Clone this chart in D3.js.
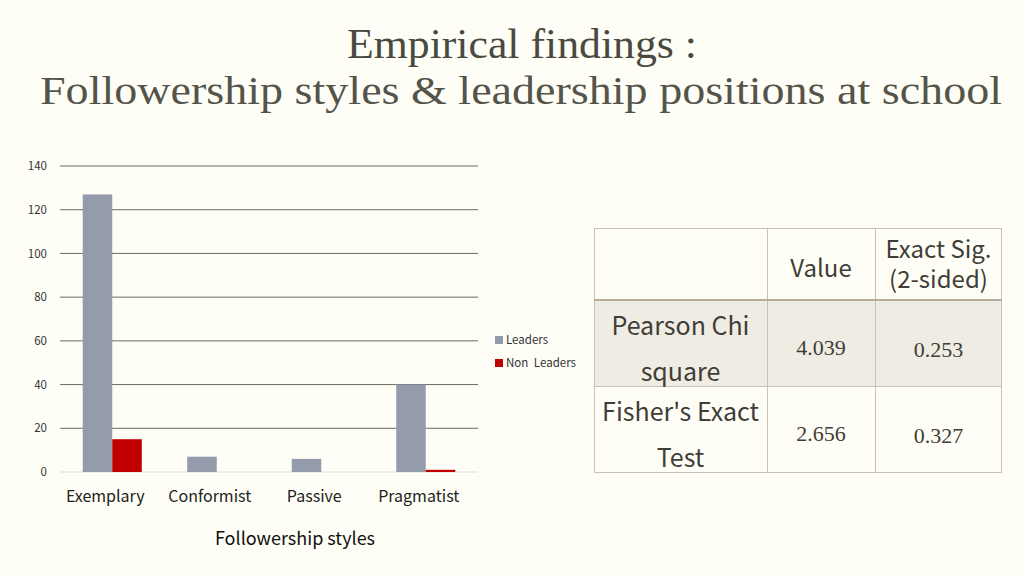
<!DOCTYPE html>
<html>
<head>
<meta charset="utf-8">
<script src="https://cdn.jsdelivr.net/npm/d3@7"></script>
<style>
  html, body { margin: 0; padding: 0; background: #fefef6; }
  svg { display: block; }
</style>
</head>
<body>
<div id="chart"></div>
<script>
const styles = ['Exemplary', 'Conformist', 'Passive', 'Pragmatist']
const seriesNames = ['Leaders', 'Non Leaders']
const leaders = [127, 7, 6, 40]
const nonLeaders = [15, 0, 0, 1]
const yTicks = [0, 20, 40, 60, 80, 100, 120, 140]

const tableHeader = ['', 'Value', 'Exact Sig.|(2-sided)']
const testNames = ['Pearson Chi|square', "Fisher's Exact|Test"]
const testValues = ['4.039', '2.656']
const testSig = ['0.253', '0.327']

const W = 1024
const H = 576
const COLORS = ['#949bab', '#c00000']
const SANS = '"Noto Sans CJK KR", "Noto Sans", sans-serif'
const SERIF = '"Liberation Serif", "DejaVu Serif", serif'

const svg = d3.select('#chart')
  .append('svg')
  .attr('width', W)
  .attr('height', H)

svg.append('rect').attr('width', W).attr('height', H).attr('fill', '#fefef6')

// titles
svg.append('text')
  .attr('x', 522).attr('y', 58)
  .attr('text-anchor', 'middle')
  .attr('font-family', SERIF)
  .attr('font-size', 42)
  .attr('fill', '#4a4940')
  .attr('textLength', 350)
  .attr('lengthAdjust', 'spacingAndGlyphs')
  .text('Empirical findings :')

svg.append('text')
  .attr('x', 521).attr('y', 104)
  .attr('text-anchor', 'middle')
  .attr('font-family', SERIF)
  .attr('font-size', 40)
  .attr('fill', '#55544b')
  .attr('textLength', 962)
  .attr('lengthAdjust', 'spacingAndGlyphs')
  .text('Followership styles & leadership positions at school')

// bar chart
const plot = { left: 60, right: 478, top: 166, bottom: 472 }

const x = d3.scaleBand()
  .domain(styles)
  .range([plot.left, plot.right])
  .paddingInner(0.435)
  .paddingOuter(0.2175)

const xs = d3.scaleBand()
  .domain(seriesNames)
  .range([0, x.bandwidth()])

const y = d3.scaleLinear()
  .domain([0, 140])
  .range([plot.bottom, plot.top])

const g = svg.append('g').attr('class', 'chart bar-chart')

g.selectAll('line.grid')
  .data(yTicks)
  .enter()
  .append('line')
  .attr('class', 'grid')
  .attr('x1', plot.left)
  .attr('x2', plot.right)
  .attr('y1', d => y(d))
  .attr('y2', d => y(d))
  .attr('stroke', d => d === 0 ? '#dcdcd4' : '#6b6b66')
  .attr('stroke-width', 1)

const yAxis = g.append('g')
  .attr('transform', `translate(${plot.left - 13},0)`)
  .call(d3.axisLeft(y).tickValues(yTicks).tickSize(0).tickPadding(0))
yAxis.select('.domain').remove()
yAxis.selectAll('text')
  .attr('font-family', SANS)
  .attr('font-size', 11.5)
  .attr('fill', '#333')

const rows = styles.map((s, i) => ({ style: s, values: [leaders[i], nonLeaders[i]] }))

const groups = g.selectAll('g.group')
  .data(rows)
  .enter()
  .append('g')
  .attr('class', 'group')
  .attr('transform', d => `translate(${x(d.style)},0)`)

groups.selectAll('rect')
  .data(d => d.values.map((v, k) => ({ name: seriesNames[k], value: v, k })))
  .enter()
  .append('rect')
  .attr('x', d => xs(d.name))
  .attr('width', xs.bandwidth())
  .attr('y', d => y(d.value))
  .attr('height', d => y(0) - y(d.value))
  .attr('fill', d => COLORS[d.k])

const xAxis = g.append('g')
  .attr('transform', `translate(0,${plot.bottom + 19})`)
  .call(d3.axisBottom(x).tickSize(0).tickPadding(0))
xAxis.select('.domain').remove()
xAxis.selectAll('text')
  .attr('font-family', SANS)
  .attr('font-size', 16)
  .attr('fill', '#222')
  .attr('dx', -7)

g.append('text')
  .attr('x', 295).attr('y', 545)
  .attr('text-anchor', 'middle')
  .attr('font-family', SANS)
  .attr('font-size', 18)
  .attr('fill', '#111')
  .text('Followership styles')

// legend
const legend = g.selectAll('g.legend')
  .data(seriesNames)
  .enter()
  .append('g')
  .attr('class', 'legend')
  .attr('transform', (d, i) => `translate(495,${336 + i * 23})`)

legend.append('rect')
  .attr('width', 8).attr('height', 8)
  .attr('fill', (d, i) => COLORS[i])

legend.append('text')
  .attr('x', 11).attr('y', 8)
  .attr('font-family', SANS)
  .attr('font-size', 11.5)
  .attr('fill', '#333')
  .attr('word-spacing', 3)
  .text(d => d)

// results table
const colX = [594, 767, 875, 1002]
const rowY = [228, 300, 386, 473]
const tbl = svg.append('g').attr('class', 'table')

tbl.append('rect')
  .attr('x', colX[0]).attr('y', rowY[1])
  .attr('width', colX[3] - colX[0]).attr('height', rowY[2] - rowY[1])
  .attr('fill', '#efece4')

tbl.append('rect')
  .attr('x', colX[0] + 0.5).attr('y', rowY[0] + 0.5)
  .attr('width', colX[3] - colX[0] - 1).attr('height', rowY[3] - rowY[0] - 1)
  .attr('fill', 'none')
  .attr('stroke', '#c7c1b8')

tbl.selectAll('line.col')
  .data(colX.slice(1, 3))
  .enter()
  .append('line')
  .attr('x1', d => d + 0.5).attr('x2', d => d + 0.5)
  .attr('y1', rowY[0]).attr('y2', rowY[3])
  .attr('stroke', '#c7c1b8')

tbl.append('line')
  .attr('x1', colX[0]).attr('x2', colX[3])
  .attr('y1', rowY[1]).attr('y2', rowY[1])
  .attr('stroke', '#b8ab98').attr('stroke-width', 2)

tbl.append('line')
  .attr('x1', colX[0]).attr('x2', colX[3])
  .attr('y1', rowY[2] + 0.5).attr('y2', rowY[2] + 0.5)
  .attr('stroke', '#c7c1b8')

function cellText (label, cx, cy, size, family, gap) {
  const parts = label.split('|')
  const t = tbl.append('text')
    .attr('text-anchor', 'middle')
    .attr('font-family', family)
    .attr('font-size', size)
    .attr('fill', '#3f3d38')
  parts.forEach((p, i) => {
    t.append('tspan')
      .attr('x', cx)
      .attr('y', cy + (i - (parts.length - 1) / 2) * gap + size * 0.35)
      .text(p)
  })
}

const colMid = i => (colX[i] + colX[i + 1]) / 2
const rowMid = i => (rowY[i] + rowY[i + 1]) / 2

cellText(tableHeader[1], colMid(1), rowMid(0) + 5, 24, SANS, 0)
cellText(tableHeader[2], colMid(2), rowMid(0) + 1, 24, SANS, 30)
testNames.forEach((n, r) => {
  cellText(n, colMid(0), rowMid(r + 1) + 6, 25, SANS, 46)
  cellText(testValues[r], colMid(1), rowMid(r + 1) + 4, 22, SERIF, 0)
  cellText(testSig[r], colMid(2), rowMid(r + 1) + 6, 22, SERIF, 0)
})
</script>
</body>
</html>
